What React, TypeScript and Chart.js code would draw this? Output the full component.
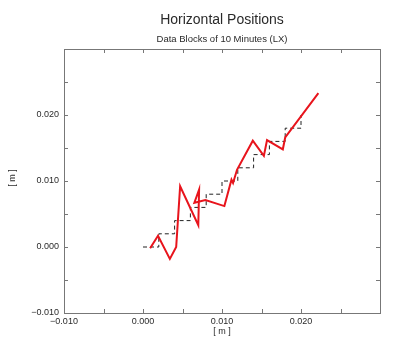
import { useEffect, useRef } from "react";
import { Chart, registerables } from "chart.js";

Chart.register(...registerables);

const TITLE = "Horizontal Positions";
const SUBTITLE = "Data Blocks of 10 Minutes (LX)";
const X_LABEL = "[ m ]";
const Y_LABEL = "[ m ]";

const AXIS_MIN = -0.01;
const AXIS_MAX = 0.03;
const TICK_STEP = 0.005;
const LABELED_TICKS = [-0.01, 0.0, 0.01, 0.02];

// Red trajectory (measured horizontal positions)
const positionX = [0.0009, 0.0019, 0.0034, 0.0042, 0.0047, 0.0070, 0.0071, 0.0065, 0.0079, 0.0103, 0.0112, 0.0114, 0.0119, 0.0139, 0.0153, 0.0157, 0.0177, 0.0180, 0.0222];
const positionY = [-0.0002, 0.0017, -0.0018, 0.0000, 0.0092, 0.0033, 0.0087, 0.0067, 0.0071, 0.0062, 0.0102, 0.0097, 0.0117, 0.0161, 0.0138, 0.0162, 0.0148, 0.0166, 0.0233];

// Black dashed staircase (10-minute data blocks)
const blockX = [0.000, 0.002, 0.002, 0.004, 0.004, 0.006, 0.006, 0.008, 0.008, 0.010, 0.010, 0.012, 0.012, 0.014, 0.014, 0.016, 0.016, 0.018, 0.018, 0.020, 0.020];
const blockY = [0.000, 0.000, 0.002, 0.002, 0.004, 0.004, 0.006, 0.006, 0.008, 0.008, 0.010, 0.010, 0.012, 0.012, 0.014, 0.014, 0.016, 0.016, 0.018, 0.018, 0.020];

const FONT = "'Liberation Sans', Arial, Helvetica, sans-serif";
const TEXT_COLOR = "#2a2a2a";
const FRAME_COLOR = "#777";

const fmt = (v: number) => {
  const s = Math.abs(v).toFixed(3);
  return v < -1e-9 ? "\u2212" + s : s;
};

const framePlugin = {
  id: "frame",
  afterDraw(chart: any) {
    const { ctx, chartArea } = chart;
    const { left, right, top, bottom } = chartArea;
    const xs = chart.scales.x;
    const ys = chart.scales.y;
    ctx.save();
    ctx.strokeStyle = FRAME_COLOR;
    ctx.lineWidth = 1;
    ctx.strokeRect(Math.round(left) + 0.5, Math.round(top) + 0.5, Math.round(right - left), Math.round(bottom - top));
    const len = 4;
    ctx.beginPath();
    xs.ticks.forEach((t: any) => {
      const p = Math.round(xs.getPixelForValue(t.value)) + 0.5;
      ctx.moveTo(p, bottom);
      ctx.lineTo(p, bottom - len);
      ctx.moveTo(p, top);
      ctx.lineTo(p, top + len);
    });
    ys.ticks.forEach((t: any) => {
      const p = Math.round(ys.getPixelForValue(t.value)) + 0.5;
      ctx.moveTo(left, p);
      ctx.lineTo(left + len, p);
      ctx.moveTo(right, p);
      ctx.lineTo(right - len, p);
    });
    ctx.stroke();

    const cx = (left + right) / 2;
    const cy = (top + bottom) / 2;
    ctx.fillStyle = TEXT_COLOR;
    ctx.textAlign = "center";
    ctx.textBaseline = "middle";
    ctx.font = `14px ${FONT}`;
    ctx.fillText(TITLE, cx, 20);
    ctx.font = `9.5px ${FONT}`;
    ctx.fillText(SUBTITLE, cx, 39.5);
    ctx.font = `9px ${FONT}`;
    ctx.fillText(X_LABEL, cx, 332);
    ctx.save();
    ctx.translate(12.5, cy - 3);
    ctx.rotate(-Math.PI / 2);
    ctx.fillText(Y_LABEL, 0, 0);
    ctx.restore();
    ctx.restore();
  },
};

const tickCallback = (value: any) => {
  const v = Number(value);
  return LABELED_TICKS.some((t) => Math.abs(t - v) < 1e-9) ? fmt(v) : "";
};

export default function App() {
  const ref = useRef<HTMLCanvasElement | null>(null);

  useEffect(() => {
    if (!ref.current) return;
    const redData = positionX.map((x, i) => ({ x, y: positionY[i] }));
    const blockData = blockX.map((x, i) => ({ x, y: blockY[i] }));
    const chart = new Chart(ref.current, {
      type: "scatter",
      data: {
        datasets: [
          {
            label: "Position",
            data: redData,
            showLine: true,
            borderColor: "#e8141c",
            borderWidth: 2,
            pointRadius: 0,
            tension: 0,
            order: 0,
          },
          {
            label: "Blocks",
            data: blockData,
            showLine: true,
            borderColor: "#222",
            borderWidth: 1,
            borderDash: [4, 3],
            pointRadius: 0,
            tension: 0,
            order: 1,
          },
        ],
      },
      options: {
        responsive: false,
        animation: false,
        devicePixelRatio: 1,
        layout: { padding: { top: 49, right: 23, bottom: 0, left: 0 } },
        plugins: {
          legend: { display: false },
          tooltip: { enabled: false },
          title: { display: false },
        },
        scales: {
          x: {
            type: "linear",
            min: AXIS_MIN,
            max: AXIS_MAX,
            grid: { display: false, tickLength: 0 },
            border: { display: false },
            ticks: {
              stepSize: TICK_STEP,
              autoSkip: false,
              maxRotation: 0,
              padding: 3,
              color: TEXT_COLOR,
              font: { family: FONT, size: 9 },
              callback: tickCallback,
            },
            afterFit: (scale: any) => {
              scale.height = 26;
            },
          },
          y: {
            type: "linear",
            min: AXIS_MIN,
            max: AXIS_MAX,
            grid: { display: false, tickLength: 0 },
            border: { display: false },
            ticks: {
              stepSize: TICK_STEP,
              autoSkip: false,
              padding: 5,
              color: TEXT_COLOR,
              font: { family: FONT, size: 9 },
              callback: tickCallback,
            },
            afterFit: (scale: any) => {
              scale.width = 64;
            },
          },
        },
      },
      plugins: [framePlugin],
    });
    return () => chart.destroy();
  }, []);

  return (
    <div style={{ position: "fixed", left: 0, top: 0, width: 403, height: 339, background: "#fff" }}>
      <canvas ref={ref} width={403} height={339} />
    </div>
  );
}
